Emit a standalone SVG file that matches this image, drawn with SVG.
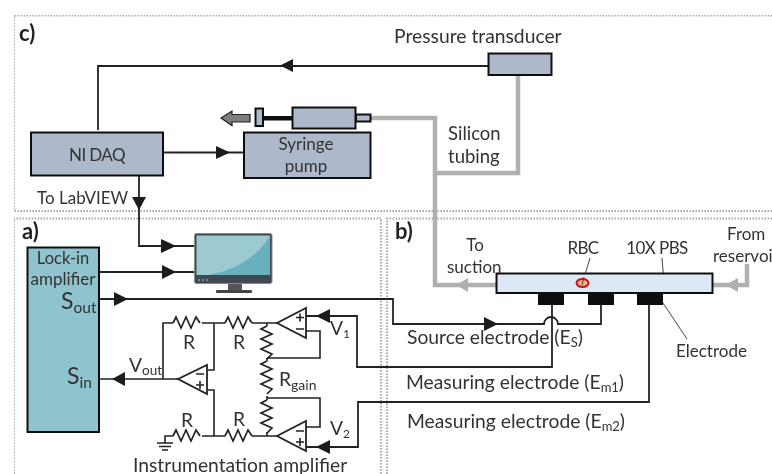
<svg xmlns="http://www.w3.org/2000/svg" width="772" height="474" viewBox="0 0 772 474">
<defs>
<style>
text{font-family:Lato,"Liberation Sans",sans-serif;font-size:17px;fill:#333}
.c{text-anchor:middle}
.b{font-weight:700;font-size:22px;fill:#222}
.l{font-size:19.300px}
.n{letter-spacing:-0.6px}
.big{font-size:23px}
.frame{fill:none;stroke:#aaa;stroke-width:2;stroke-dasharray:1.5 1.5}
.box{fill:#adb9ca;stroke:#111;stroke-width:2}
.w{fill:none;stroke:#222;stroke-width:1.6}
.w2{fill:none;stroke:#222;stroke-width:1.8}
.tube{fill:none;stroke:#b0b0b0;stroke-width:4.500}
.thin{fill:none;stroke:#444;stroke-width:1}
.amp{fill:#fff;stroke:#222;stroke-width:1.8}
.ah{fill:#1a1a1a}
</style>
<filter id="soft" x="0" y="0" width="100%" height="100%"><feGaussianBlur stdDeviation="0.4"/></filter>
<path id="res" d="M0 0l3-6 5 11 5-11 5 11 5-11 4 6" fill="none" stroke="#222" stroke-width="1.7"/>
<path id="vres" d="M0 0l-6 3 11 5-11 5 11 5-11 5 11 5-5 5" fill="none" stroke="#222" stroke-width="1.7"/>
</defs>
<rect width="772" height="474" fill="#fff"/>
<g filter="url(#soft)">
<g id="frames">
<path class="frame" d="M772 15.500H14V211H772"/>
<path class="frame" d="M14 474V218.500H381V474"/>
<path class="frame" d="M387 474V218.500H772"/>
</g>
<g id="connectors">
<path class="tube" d="M371 118H435V285H496M437 173H518V75"/>
<path class="tube" d="M712 285H747V264"/>
<path d="M468 278v14l-12-7z" fill="#b0b0b0"/>
<path d="M738 278v14l-13-7z" fill="#b0b0b0"/>
<path class="w2" d="M98 130V66H488M163 152.500H244M139 175V246H194M99 272H194"/>
<path class="ah" d="M293 59v13l-13-6.500zM216 146v13l14-6.500zM132 197h14l-7 13zM161 239v14l15-7zM162 265v14l14-7z"/>
<path class="w2" d="M100 299H393V324H544a7 7 0 0 1 14 0H601V304"/>
<path class="ah" d="M114 292v14l14-7zM484 317v14l14-7z"/>
<path class="w2" d="M552 305V367H357V316H306M649 305V402H358V447H306"/>
<path class="ah" d="M330 309v14l-14-7zM330 440v14l-14-7zM112 379l13-7v14z"/>
<path class="w" d="M100 379H178M163 379V323H173M202 323H225M252 323H277M214 323V370H208M214 436V390H208M202 436H225M252 436H277M173 436H165V443M267 323V326M267 358V361M267 396V400M267 432V436M267 358H320V331H306M267 398H320V427H306"/>
<path class="w" d="M157 443H173M159 446.500H171M162 450H168"/>
<use href="#res" x="173" y="323"/><use href="#res" x="225" y="323"/>
<use href="#res" x="173" y="436"/><use href="#res" x="225" y="436"/>
<use href="#vres" x="267" y="326"/><use href="#vres" x="267" y="361"/><use href="#vres" x="267" y="400"/>
<path class="thin" d="M590 258L582 285M662 258L664 283M663 303L687 339"/>
</g>
<g id="nidaq"><rect class="box" x="31" y="132.500" width="132" height="43"/><text class="c n" x="97" y="161">NI DAQ</text></g>
<g id="syringe-pump"><rect class="box" x="244" y="132.500" width="126.500" height="45.500"/><text class="c" x="306" y="150">Syringe</text><text class="c" x="306" y="172">pump</text></g>
<g id="syringe">
<path d="M250 114.500H232V111L221 118L232 125.500V122H250z" fill="#7f7f7f" stroke="#222" stroke-width="1.200"/>
<rect class="box" x="255.500" y="108.500" width="7.500" height="17.500"/>
<rect x="263" y="116" width="30" height="4.500" fill="#111"/>
<rect class="box" x="292.500" y="107.500" width="63" height="21"/>
<rect class="box" x="356" y="114.500" width="14.500" height="7"/>
</g>
<g id="pressure-transducer"><rect class="box" x="488.500" y="53.500" width="63" height="21.500"/><text class="l" x="394" y="43">Pressure transducer</text></g>
<g id="monitor">
<rect x="194.500" y="233.500" width="77.500" height="50" rx="2" fill="#3f4a52" stroke="#888" stroke-width="1"/>
<rect x="196.500" y="235.500" width="73.500" height="39.500" fill="#9dc9d0"/>
<path d="M270 236V275H208Q250 268 270 236z" fill="#67b0bd"/>
<path d="M228 284h14v6h-14z" fill="#555"/><rect x="216" y="290" width="36" height="3" rx="1" fill="#444"/>
<circle cx="199" cy="280" r="1" fill="#5bb"/><circle cx="203" cy="280" r="1" fill="#999"/><circle cx="207" cy="280" r="1" fill="#999"/>
</g>
<g id="lockin"><rect x="27.500" y="247.500" width="71.500" height="184.500" fill="#8fc4cf" stroke="#111" stroke-width="2"/>
<text class="c" x="63" y="264" style="font-size:16.500px">Lock-in</text><text class="c" x="63" y="285">amplifier</text>
<text class="big" x="61" y="309">S<tspan font-size="15.500" dy="4">out</tspan></text>
<text class="big" x="67" y="384">S<tspan font-size="15.500" dy="4">in</tspan></text></g>
<g id="amp1"><path class="amp" d="M277 323L306 308V338z"/><path class="w" d="M296 317.500h8M300 313.500v8M296 329h8"/></g>
<g id="amp2"><path class="amp" d="M277 436L306 421V451z"/><path class="w" d="M296 431h8M296 442h8M300 438v8"/></g>
<g id="amp3"><path class="amp" d="M178 379L207 365V394z"/><path class="w" d="M196 374h8M196 385h8M200 381v8"/></g>
<g id="channel">
<rect x="496.500" y="273.500" width="216" height="19.500" fill="#dce8f5" stroke="#111" stroke-width="2"/>
<rect x="538" y="294" width="26" height="11" fill="#0a0a0a"/><rect x="588" y="294" width="26" height="11" fill="#0a0a0a"/><rect x="637" y="294" width="26" height="11" fill="#0a0a0a"/>
<ellipse cx="582.500" cy="283" rx="6" ry="4" fill="#f4b183" stroke="#c8171c" stroke-width="2"/>
<path class="thin" d="M584 277L582 285"/>
</g>
<g id="labels">
<text class="b" x="19" y="41">c)</text><text class="b" x="22" y="239">a)</text><text class="b" x="395" y="239">b)</text>
<text x="448" y="140" style="font-size:18.500px">Silicon</text><text x="448" y="163" style="font-size:18.500px">tubing</text>
<text x="37" y="204">To LabVIEW</text>
<text class="c" x="475" y="251">To</text><text x="447" y="273">suction</text>
<text class="c n" x="583" y="254">RBC</text><text class="c n" x="657" y="254">10X PBS</text>
<text x="727" y="240">From</text><text x="713" y="262">reservoir</text>
<text class="l" x="407" y="344">Source electrode (E<tspan font-size="13" dy="3">S</tspan><tspan dy="-3">)</tspan></text>
<text x="676" y="357">Electrode</text>
<text class="l" x="406" y="389">Measuring electrode (E<tspan font-size="13" dy="3">m1</tspan><tspan dy="-3">)</tspan></text>
<text class="l" x="407" y="428">Measuring electrode (E<tspan font-size="13" dy="3">m2</tspan><tspan dy="-3">)</tspan></text>
<text class="l" x="133" y="472">Instrumentation amplifier</text>
<text class="l" x="129" y="372">V<tspan font-size="13.500" dy="3">out</tspan></text>
<text class="c l" x="189" y="349">R</text><text class="c l" x="239" y="349">R</text><text class="c l" x="187" y="427">R</text><text class="c l" x="239" y="426">R</text>
<text class="l" x="279" y="386">R<tspan font-size="14" dy="4">gain</tspan></text>
<text class="l" x="330" y="335">V<tspan font-size="12" dy="3">1</tspan></text>
<text class="l" x="330" y="435">V<tspan font-size="12" dy="3">2</tspan></text>
</g>
</g>
</svg>
